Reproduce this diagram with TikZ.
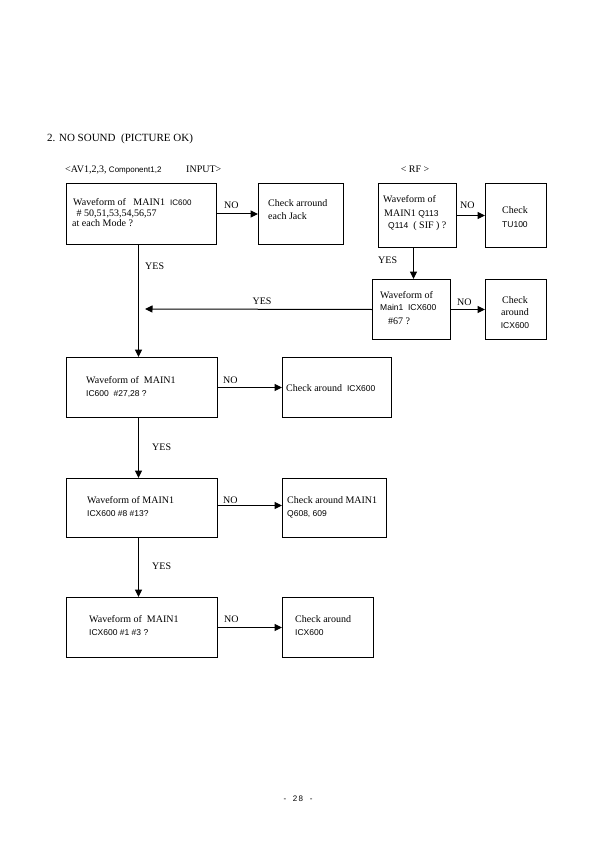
\documentclass[tikz,border=0pt]{standalone}
\usepackage{fontspec}
\setmainfont{Liberation Serif}
\newfontfamily\arlfont{Liberation Sans}
\usetikzlibrary{arrows.meta}
\newcommand\sfx[1]{{\arlfont\fontsize{8.5}{9}\selectfont #1}}
\begin{document}
\begin{tikzpicture}[x=1pt,y=-1pt,
  box/.style={draw,line width=1pt,inner sep=0pt,anchor=north west},
  txt/.style={anchor=base west,inner sep=0pt,font=\fontsize{10}{12}\selectfont},
  ctxt/.style={anchor=base,inner sep=0pt,font=\fontsize{10}{12}\selectfont},
  arr/.style={line width=1pt,-{Triangle[length=7.5pt,width=7pt]}}]
\useasboundingbox[fill=white] (0,0) rectangle (595,842);

% title and headings
\node[txt,font=\fontsize{11}{13}\selectfont] (title) at (47,142) {2. NO SOUND\ \ (PICTURE OK)};
\node[txt] (av) at (65,173) {<AV1,2,3, {\arlfont\fontsize{8}{9}\selectfont Component1,2}};
\node[txt] (inp) at (186,173) {INPUT>};
\node[ctxt] (rf) at (415,173) {< RF >};

% boxes
\node[box,minimum width=150pt,minimum height=61pt] (b1) at (66,183) {};
\node[box,minimum width=85pt,minimum height=61pt] (b2) at (258,183) {};
\node[box,minimum width=78pt,minimum height=64pt] (r1) at (378,183) {};
\node[box,minimum width=61pt,minimum height=64pt] (r1n) at (485,183) {};
\node[box,minimum width=78pt,minimum height=60pt] (r2) at (372,279) {};
\node[box,minimum width=61pt,minimum height=60pt] (r2n) at (485,279) {};
\node[box,minimum width=151pt,minimum height=60pt] (b3) at (66,357) {};
\node[box,minimum width=109pt,minimum height=60pt] (b3n) at (282,357) {};
\node[box,minimum width=151pt,minimum height=59pt] (b4) at (66,478) {};
\node[box,minimum width=104pt,minimum height=59pt] (b4n) at (282,478) {};
\node[box,minimum width=151pt,minimum height=60pt] (b5) at (66,597) {};
\node[box,minimum width=91pt,minimum height=60pt] (b5n) at (282,597) {};

% box texts
\node[txt] (t1a) at (73,206) {Waveform of\ \ \ MAIN1\ \ {\arlfont\fontsize{8}{9}\selectfont IC600}};
\node[txt] (t1b) at (74,216) {\ \# 50,51,53,54,56,57};
\node[txt] (t1c) at (72,226) {at each Mode ?};
\node[txt] (t2a) at (268,207) {Check arround};
\node[txt] (t2b) at (268,219) {each Jack};

\node[txt] (tr1a) at (383,203) {Waveform of};
\node[txt] (tr1b) at (384,216) {MAIN1 \sfx{Q113}};
\node[txt] (tr1c) at (388,229) {\sfx{Q114}\ \ ( SIF ) ?};
\node[txt] (tr1na) at (502,214) {Check};
\node[txt] (tr1nb) at (502,227) {\sfx{TU100}};

\node[txt] (tr2a) at (380,298) {Waveform of};
\node[txt] (tr2b) at (380,310) {\sfx{Main1\ \ ICX600}};
\node[txt] (tr2c) at (388,324) {\#67 ?};
\node[ctxt] (tr2na) at (515,303) {Check};
\node[ctxt] (tr2nb) at (515,315) {around};
\node[ctxt] (tr2nc) at (515,328) {\sfx{ICX600}};

\node[txt] (t3a) at (86,383) {Waveform of\ \ MAIN1};
\node[txt] (t3b) at (86,396) {\sfx{IC600\ \ \#27,28 ?}};
\node[txt] (t3n) at (286,391) {Check around\ \ \sfx{ICX600}};

\node[txt] (t4a) at (87,503) {Waveform of\ MAIN1};
\node[txt] (t4b) at (87,516) {\sfx{ICX600 \#8 \#13?}};
\node[txt] (t4na) at (287,503) {Check around MAIN1};
\node[txt] (t4nb) at (287,516) {\sfx{Q608, 609}};

\node[txt] (t5a) at (89,622) {Waveform of\ \ MAIN1};
\node[txt] (t5b) at (89,635) {\sfx{ICX600 \#1 \#3 ?}};
\node[txt] (t5na) at (295,622) {Check around};
\node[txt] (t5nb) at (295,635) {\sfx{ICX600}};

% connectors
\draw[arr] (b1.east) -- (b2.west);
\draw[arr] (r1.east) -- (r1n.west);
\draw[arr] ([xshift=-4pt]r1.south) -- ([xshift=-4pt]r1.south |- r2.north);
\draw[arr] (r2.east) -- (r2n.west);
\coordinate (yesend) at (145,309);
\draw[arr] (r2.west) -- (yesend);
\draw[arr] ([xshift=-3pt]b1.south) -- ([xshift=-3pt]b1.south |- b3.north);
\draw[arr] (b3.east) -- (b3n.west);
\draw[arr] ([xshift=-3.5pt]b3.south) -- ([xshift=-3.5pt]b3.south |- b4.north);
\draw[arr] ([yshift=2.5pt]b4.east) -- ([yshift=2.5pt]b4.east -| b4n.west);
\draw[arr] ([xshift=-3.5pt]b4.south) -- ([xshift=-3.5pt]b4.south |- b5.north);
\draw[arr] (b5.east) -- (b5n.west);

% connector labels
\node[txt] (no1) at (224,209) {NO};
\node[txt] (nor1) at (460,209) {NO};
\node[txt] (yesr) at (378,263) {YES};
\node[txt] (nor2) at (457,305) {NO};
\node[ctxt] (yesl) at (262,304) {YES};
\node[txt] (yes1) at (145,269) {YES};
\node[txt] (no3) at (223,383) {NO};
\node[txt] (yes3) at (152,450) {YES};
\node[txt] (no4) at (223,503) {NO};
\node[txt] (yes4) at (152,569) {YES};
\node[txt] (no5) at (224,622) {NO};

% page number
\node[anchor=base,inner sep=0pt] (page) at (298,801) {{\arlfont\fontsize{8}{9}\selectfont -\ \ \ 2\,8\ \ \ -}};
\end{tikzpicture}
\end{document}
